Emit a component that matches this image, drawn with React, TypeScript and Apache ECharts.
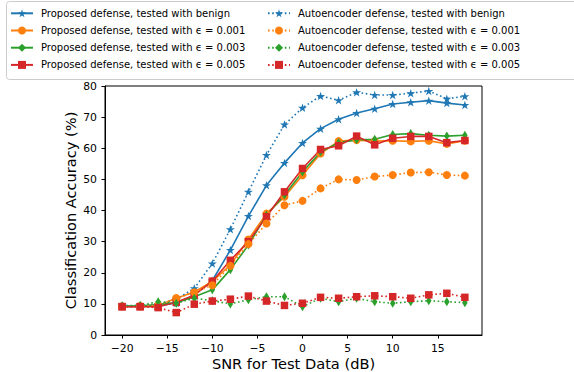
import React, { useEffect, useRef } from "react";
import * as echarts from "echarts";

// SNR values of the test data (dB)
const snr = [-20, -18, -16, -14, -12, -10, -8, -6, -4, -2, 0, 2, 4, 6, 8, 10, 12, 14, 16, 18];
const xTicks = [-20, -15, -10, -5, 0, 5, 10, 15];

// Classification accuracy (%) — proposed defense
const proposedBenign = [9.2, 9.2, 9.4, 10.3, 12.8, 17.5, 27.3, 38.2, 48.1, 55.3, 61.7, 66.3, 69.3, 71.3, 72.7, 74.2, 74.8, 75.3, 74.5, 73.9];
const proposedEps001 = [9.2, 9.2, 9.4, 11.8, 13.8, 17.2, 22.5, 30.7, 39.0, 44.4, 51.3, 58.3, 62.3, 62.6, 62.3, 62.4, 62.2, 62.4, 61.4, 62.4];
const proposedEps003 = [9.2, 9.4, 9.8, 10.4, 12.3, 14.5, 21.0, 28.9, 38.5, 45.0, 52.4, 58.8, 61.8, 62.7, 62.9, 64.4, 64.7, 64.2, 63.9, 64.2];
const proposedEps005 = [9.1, 9.1, 9.1, 10.5, 12.8, 17.3, 24.0, 30.0, 38.0, 46.0, 53.5, 59.6, 60.8, 63.9, 61.1, 63.2, 63.8, 63.8, 61.8, 62.5];

// Classification accuracy (%) — autoencoder defense
const aeBenign = [9.5, 9.5, 9.8, 11.5, 15.0, 23.0, 34.0, 46.0, 57.8, 67.6, 73.0, 76.8, 75.4, 78.0, 77.1, 77.1, 77.7, 78.4, 75.9, 76.7];
const aeEps001 = [9.2, 9.3, 9.6, 11.8, 13.7, 16.0, 22.2, 29.2, 35.8, 41.7, 43.1, 47.1, 50.0, 49.8, 50.9, 51.4, 52.2, 52.3, 51.4, 51.2];
const aeEps003 = [9.3, 9.5, 10.7, 10.2, 11.8, 11.0, 10.0, 11.3, 12.3, 12.3, 9.1, 11.8, 10.7, 11.8, 10.7, 10.2, 10.7, 11.0, 10.7, 10.4];
const aeEps005 = [9.1, 9.1, 8.8, 7.2, 9.9, 10.9, 11.5, 12.5, 10.9, 9.5, 10.2, 12.1, 11.8, 12.3, 12.6, 12.3, 11.8, 12.9, 13.4, 12.1];

const BLUE = "#1f77b4";
const ORANGE = "#ff7f0e";
const GREEN = "#2ca02c";
const RED = "#d62728";
const FONT = "DejaVu Sans";

const STAR =
  "path://M0,-100L22.45,-30.9L95.1,-30.9L36.3,11.8L58.8,80.9L0,38.2L-58.8,80.9L-36.3,11.8L-95.1,-30.9L-22.45,-30.9Z";

type Marker = { symbol: string; size: number | number[] };
const markers: Record<string, Marker> = {
  star: { symbol: STAR, size: [9, 8.5] },
  circle: { symbol: "circle", size: 8 },
  diamond: { symbol: "diamond", size: [5.5, 9] },
  square: { symbol: "rect", size: 7.5 },
};

const fmt = (v: number) => (v < 0 ? "\u2212" + Math.abs(v) : String(v));

function makeSeries(name: string, values: number[], color: string, marker: Marker, dotted: boolean) {
  return {
    type: "line",
    name,
    data: snr.map((x, i) => [x, values[i]]),
    symbol: marker.symbol,
    symbolSize: marker.size,
    showSymbol: true,
    lineStyle: { color, width: 1.6, type: dotted ? [1.6, 2.6] : "solid" },
    itemStyle: { color, borderWidth: 0 },
    emphasis: { disabled: true },
  };
}

const names = [
  "Proposed defense, tested with benign",
  "Proposed defense, tested with \u03f5 = 0.001",
  "Proposed defense, tested with \u03f5 = 0.003",
  "Proposed defense, tested with \u03f5 = 0.005",
  "Autoencoder defense, tested with benign",
  "Autoencoder defense, tested with \u03f5 = 0.001",
  "Autoencoder defense, tested with \u03f5 = 0.003",
  "Autoencoder defense, tested with \u03f5 = 0.005",
];

export default function App() {
  const ref = useRef<HTMLDivElement>(null);

  useEffect(() => {
    if (!ref.current) return;
    const chart = echarts.init(ref.current, undefined, { renderer: "svg" });

    const series = [
      makeSeries(names[0], proposedBenign, BLUE, markers.star, false),
      makeSeries(names[1], proposedEps001, ORANGE, markers.circle, false),
      makeSeries(names[2], proposedEps003, GREEN, markers.diamond, false),
      makeSeries(names[3], proposedEps005, RED, markers.square, false),
      makeSeries(names[4], aeBenign, BLUE, markers.star, true),
      makeSeries(names[5], aeEps001, ORANGE, markers.circle, true),
      makeSeries(names[6], aeEps003, GREEN, markers.diamond, true),
      makeSeries(names[7], aeEps005, RED, markers.square, true),
    ];

    const legendBase = {
      orient: "vertical",
      top: 8.3,
      padding: 0,
      itemWidth: 22,
      itemHeight: 10,
      itemGap: 7.2,
      z: 5,
      selectedMode: false,
      textStyle: { fontFamily: FONT, fontSize: 10, color: "#000", padding: [0, 0, 0, 3] },
    };

    chart.setOption({
      animation: false,
      backgroundColor: "#fff",
      graphic: [
        {
          type: "rect",
          z: 1,
          shape: { x: 6.5, y: 1.5, width: 600, height: 78, r: 3 },
          style: { fill: "rgba(255,255,255,0.8)", stroke: "#cccccc", lineWidth: 1 },
        },
      ],
      legend: [
        { ...legendBase, left: 10, data: names.slice(0, 4) },
        { ...legendBase, left: 267, data: names.slice(4) },
      ],
      grid: {
        left: 105,
        top: 86,
        width: 377,
        height: 249,
        show: true,
        borderColor: "#000",
        borderWidth: 1,
        containLabel: false,
        outerBoundsMode: "none",
      },
      xAxis: {
        type: "value",
        min: -21.9,
        max: 19.9,
        name: "SNR for Test Data (dB)",
        nameLocation: "middle",
        nameGap: 21,
        nameMoveOverlap: false,
        nameTextStyle: { fontFamily: FONT, fontSize: 14.6, lineHeight: 15, color: "#000" },
        axisLine: { show: true, onZero: false, lineStyle: { color: "#000", width: 1 } },
        axisTick: { show: true, inside: false, length: 3.5, customValues: xTicks, lineStyle: { color: "#000" } },
        axisLabel: {
          customValues: xTicks,
          formatter: fmt,
          fontFamily: FONT,
          fontSize: 10.8,
          color: "#000",
          margin: 8,
        },
        splitLine: { show: false },
      },
      yAxis: {
        type: "value",
        min: 0,
        max: 80,
        interval: 10,
        name: "Classification Accuracy (%)",
        nameLocation: "middle",
        nameGap: 27,
        nameMoveOverlap: false,
        nameTextStyle: { fontFamily: FONT, fontSize: 14.6, lineHeight: 15, color: "#000" },
        axisLine: { show: true, onZero: false, lineStyle: { color: "#000", width: 1 } },
        axisTick: { show: true, inside: false, length: 3.5, lineStyle: { color: "#000" } },
        axisLabel: { fontFamily: FONT, fontSize: 10.8, color: "#000", margin: 8 },
        splitLine: { show: false },
      },
      series,
    });

    return () => chart.dispose();
  }, []);

  return (
    <div
      ref={ref}
      style={{ position: "fixed", left: 0, top: 0, width: 574, height: 372, background: "#fff" }}
    />
  );
}
